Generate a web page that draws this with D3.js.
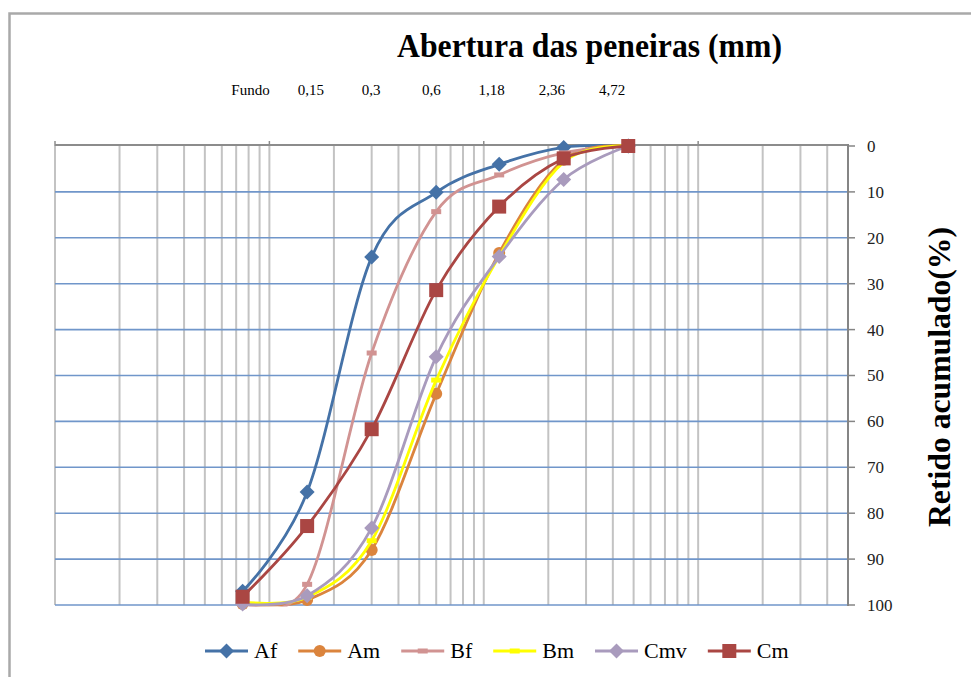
<!DOCTYPE html>
<html><head><meta charset="utf-8">
<script src="https://cdn.jsdelivr.net/npm/d3@7"></script>
<style>body{margin:0;background:#fff}svg{display:block}</style>
</head><body>
<script>
// ---- data ----
const sieves = [0.075, 0.15, 0.3, 0.6, 1.18, 2.36, 4.72];
const topLabels = ["Fundo", "0,15", "0,3", "0,6", "1,18", "2,36", "4,72"];
const yTicks = [0, 10, 20, 30, 40, 50, 60, 70, 80, 90, 100];
const seriesNames = ["Af", "Am", "Bf", "Bm", "Cmv", "Cm"];
const Af  = [97.0, 75.4, 24.2, 10.1, 4.0, 0.3, 0];
const Am  = [99.8, 98.9, 88.0, 54.0, 23.3, 3.0, 0];
const Bf  = [99.5, 95.5, 45.1, 14.3, 6.3, 1.5, 0];
const Bm  = [99.3, 98.3, 86.0, 51.0, 24.0, 3.5, 0];
const Cmv = [99.8, 98.0, 83.2, 45.9, 24.1, 7.3, 0];
const Cm  = [98.2, 82.8, 61.7, 31.4, 13.2, 2.7, 0];
const seriesValues = [Af, Am, Bf, Bm, Cmv, Cm];
const colors = ["#4572A7", "#DB843D", "#D19392", "#FFFF00", "#A99BBD", "#AA4643"];
const markers = ["diamond", "circle", "dash", "dash", "diamond", "square"];

const W = 971, H = 677;
const svg = d3.select("body").append("svg").attr("width", W).attr("height", H);

// outer frame
svg.append("path").attr("d", `M9.5,${H+5} L9.5,13.5 L${W+5},13.5`)
  .attr("fill", "none").attr("stroke", "#A9A9A9").attr("stroke-width", 2.5);

const x = d3.scaleLog().domain([0.01, 50]).range([55, 848]);
const y = d3.scaleLinear().domain([0, 100]).range([146, 605]);

svg.append("clipPath").attr("id", "plotclip").append("rect")
  .attr("x", x(0.01)).attr("y", y(0) - 10).attr("width", x(50) - x(0.01)).attr("height", y(100) - y(0) + 11.5);

// vertical grid
const g = svg.append("g");
g.selectAll(".vg").data(x.ticks()).join("line")
  .attr("x1", d => x(d)).attr("x2", d => x(d))
  .attr("y1", y(0)).attr("y2", y(100))
  .attr("stroke", "#C3C3C3").attr("stroke-width", 2);
// horizontal grid
g.selectAll(".hg").data(yTicks.filter(d => d > 0)).join("line")
  .attr("x1", x(0.01)).attr("x2", x(50))
  .attr("y1", d => y(d)).attr("y2", d => y(d))
  .attr("stroke", "#7096CA").attr("stroke-width", 1.6);
// top border
g.append("line").attr("x1", x(0.01)).attr("x2", x(50)).attr("y1", y(0) - 1).attr("y2", y(0) - 1)
  .attr("stroke", "#8C8C8C").attr("stroke-width", 2);
// decade ticks on top
g.selectAll(".dt").data([0.01, 0.1, 1, 10]).join("line")
  .attr("x1", d => x(d)).attr("x2", d => x(d)).attr("y1", y(0) - 5).attr("y2", y(0))
  .attr("stroke", "#8C8C8C").attr("stroke-width", 1.5);
// right axis
g.append("line").attr("x1", x(50)).attr("x2", x(50)).attr("y1", y(0) - 2).attr("y2", y(100) + 1)
  .attr("stroke", "#858585").attr("stroke-width", 2);
g.selectAll(".yt").data(yTicks).join("line")
  .attr("x1", x(50)).attr("x2", x(50) + 7).attr("y1", d => y(d)).attr("y2", d => y(d))
  .attr("stroke", "#858585").attr("stroke-width", 1.5);
g.selectAll(".yl").data(yTicks).join("text")
  .attr("x", 867).attr("y", d => y(d)).attr("dy", "0.35em")
  .attr("font-family", "Liberation Serif, Times New Roman, serif").attr("font-size", 17)
  .attr("fill", "#222").text(d => d);

// title
svg.append("text").attr("x", 397).attr("y", 57)
  .attr("font-family", "Liberation Serif, Times New Roman, serif").attr("font-weight", "bold")
  .attr("font-size", 33).attr("textLength", 385).attr("lengthAdjust", "spacingAndGlyphs")
  .text("Abertura das peneiras (mm)");

// top labels
const lx = d3.scalePoint().domain(topLabels).range([250.5, 612]);
svg.selectAll(".tl").data(topLabels).join("text")
  .attr("x", d => lx(d)).attr("y", 95).attr("text-anchor", "middle")
  .attr("font-family", "Liberation Serif, Times New Roman, serif").attr("font-size", 15)
  .text(d => d);

// y label
svg.append("text").attr("transform", "translate(950,377) rotate(-90)")
  .attr("text-anchor", "middle")
  .attr("font-family", "Liberation Serif, Times New Roman, serif").attr("font-weight", "bold")
  .attr("font-size", 32).attr("textLength", 300).attr("lengthAdjust", "spacingAndGlyphs")
  .text("Retido acumulado(%)");

function drawMarker(sel, type, color, cx, cy) {
  if (type === "diamond") {
    sel.append("path").attr("d", `M${cx},${cy-7.5}L${cx+7.5},${cy}L${cx},${cy+7.5}L${cx-7.5},${cy}Z`).attr("fill", color);
  } else if (type === "circle") {
    sel.append("circle").attr("cx", cx).attr("cy", cy).attr("r", 6).attr("fill", color);
  } else if (type === "square") {
    sel.append("rect").attr("x", cx - 7).attr("y", cy - 7).attr("width", 14).attr("height", 14).attr("fill", color);
  } else {
    sel.append("rect").attr("x", cx - 5).attr("y", cy - 2.5).attr("width", 10).attr("height", 5).attr("fill", color);
  }
}

const line = d3.line().x(d => x(d[0])).y(d => y(d[1])).curve(d3.curveCatmullRom.alpha(0));
seriesValues.forEach((vals, i) => {
  const pts = sieves.map((s, j) => [s, vals[j]]);
  const sg = svg.append("g");
  sg.append("path").attr("d", line(pts)).attr("fill", "none")
    .attr("clip-path", "url(#plotclip)")
    .attr("stroke", colors[i]).attr("stroke-width", 2.8);
  pts.forEach(p => drawMarker(sg, markers[i], colors[i], x(p[0]), y(p[1])));
});

// legend
const leg = svg.append("g");
let cx = 205;
seriesNames.forEach((n, i) => {
  const ly = 651;
  leg.append("line").attr("x1", cx).attr("x2", cx + 43).attr("y1", ly).attr("y2", ly)
    .attr("stroke", colors[i]).attr("stroke-width", 2.8);
  drawMarker(leg, markers[i], colors[i], cx + 21.5, ly);
  const t = leg.append("text").attr("x", cx + 49).attr("y", ly + 7)
    .attr("font-family", "Liberation Serif, Times New Roman, serif").attr("font-size", 22)
    .text(n);
  cx += 49 + t.node().getComputedTextLength() + 21;
});
</script>
</body></html>
